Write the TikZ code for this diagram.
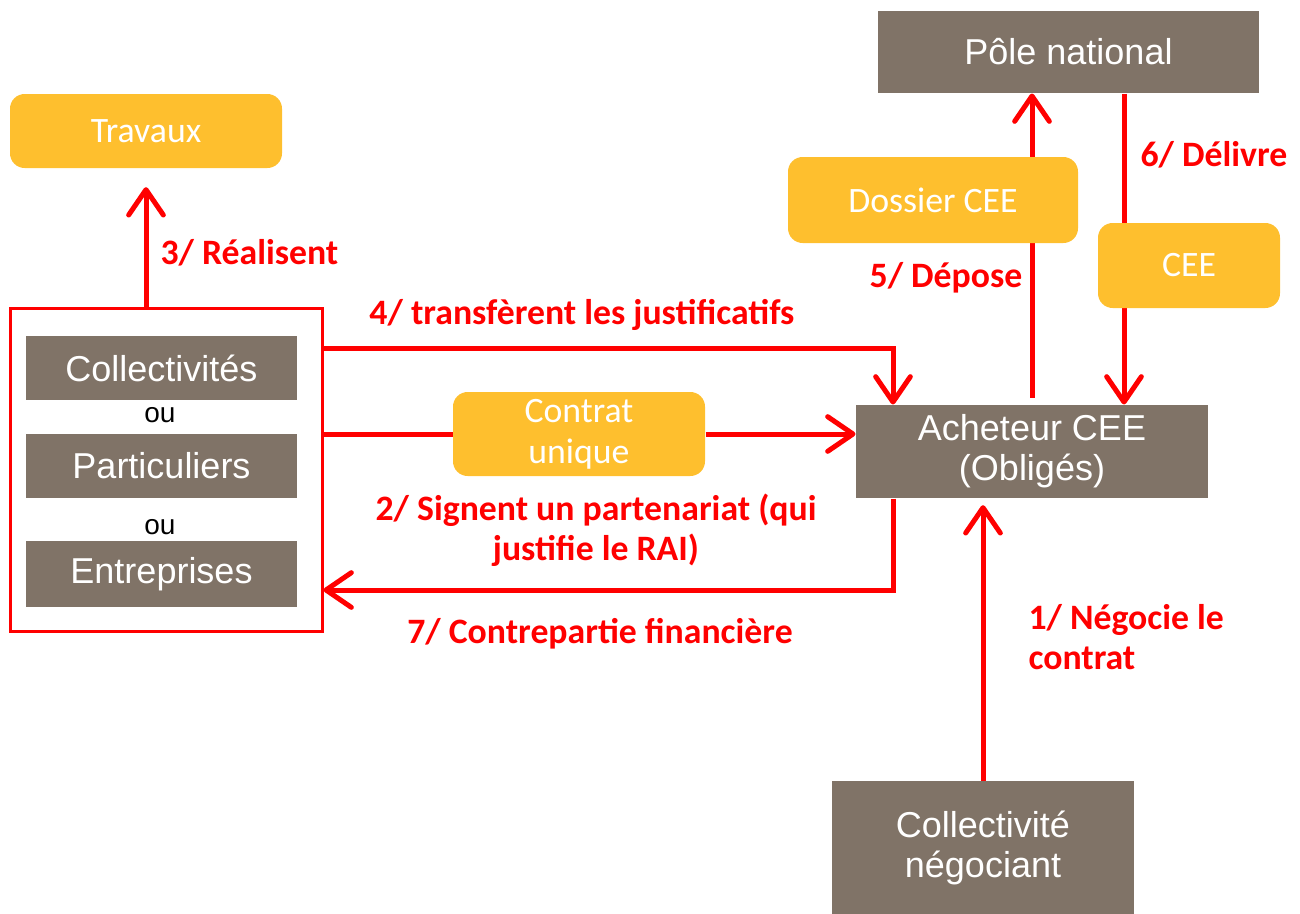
\documentclass[tikz,border=0pt]{standalone}
\usepackage{fontspec}
\setmainfont{Carlito}
\newfontfamily\arialfont{Liberation Sans}
\usetikzlibrary{arrows.meta,backgrounds}
\definecolor{boxbrown}{RGB}{128,115,103}
\definecolor{boxyellow}{RGB}{254,191,46}
\definecolor{arrowred}{RGB}{255,0,0}
\tikzset{every picture/.style={line width=0.75pt}}

\begin{document}
\begin{tikzpicture}[
            x=0.75pt,
            y=0.75pt,
            yscale=-1,
            xscale=1,
            brownbox/.style={fill=boxbrown, text=white, inner sep=0pt, align=center, font=\arialfont\fontsize{27}{30}\selectfont},
            yellowbox/.style={fill=boxyellow, text=white, rounded corners=11pt, inner sep=0pt, align=center, font=\fontsize{26.8}{30.5}\selectfont},
            redlabel/.style={text=arrowred, inner sep=0pt, font=\bfseries\fontsize{26.8}{30}\selectfont},
            flowline/.style={draw=arrowred, line width=3.75pt},
            flow/.style={flowline, -{Straight Barb[length=19pt,width=26pt,round]}}
        ]
            \useasboundingbox (0,0) rectangle (1300,914);
            % acteurs
            \node[yellowbox, minimum width=204pt, minimum height=55.5pt] (travaux) at (146,131) {Travaux};
            \node[draw=arrowred, line width=2.25pt, minimum width=234pt, minimum height=242.25pt] (grp) at (166,469.5) {};
            \node[brownbox, minimum width=203.25pt, minimum height=48pt] (coll) at (161.5,368) {Collectivités};
            \node[font=\arialfont\fontsize{21}{24}\selectfont] (ou1) at (160,415) {ou};
            \node[brownbox, minimum width=203.25pt, minimum height=48pt] (part) at (161.5,466) {Particuliers};
            \node[font=\arialfont\fontsize{21}{24}\selectfont] (ou2) at (160,527) {ou};
            \node[brownbox, minimum width=203.25pt, minimum height=49.5pt] (entr) at (161.5,574) {Entreprises};
            \node[brownbox, minimum width=285.75pt, minimum height=61.5pt] (pole) at (1068.5,52) {Pôle national};
            \node[brownbox, minimum width=264pt, minimum height=69.75pt] (acheteur) at (1032,451.5) {Acheteur CEE\\(Obligés)};
            \node[brownbox, minimum width=226.5pt, minimum height=99.75pt] (negociant) at (983,847.5) {Collectivité\\négociant};
            % documents
            \node[yellowbox, minimum width=217.5pt, minimum height=64.5pt] (dossier) at (933,200) {Dossier CEE};
            \node[yellowbox, minimum width=136.5pt, minimum height=63.75pt] (cee) at (1189,265.5) {CEE};
            \node[yellowbox, minimum width=189pt, minimum height=63pt] (contrat) at (579,434) {Contrat\\unique};
            \coordinate (c4) at (893,348);
            \coordinate (c6) at (1124,0);
            \coordinate (c7) at (893,590);
            % fleches
            \begin{scope}[on background layer]
            \draw[flow, shorten >=14pt] (grp.north -| travaux.south) -- (travaux.south);
            \draw[flow] (grp.east |- c4) -- (c4) -- (acheteur.north -| c4);
            \draw[flowline] (grp.east |- contrat.west) -- (contrat.west);
            \draw[flow] (contrat.east) -- (contrat.east -| acheteur.west);
            \draw[flow, shorten <=5pt] (acheteur.north) -- (acheteur.north |- pole.south);
            \draw[flow] (pole.south -| c6) -- (acheteur.north -| c6);
            \draw[flow] (acheteur.south -| c7) -- (c7) -- (grp.east |- c7);
            \draw[flow, shorten >=5pt] (negociant.north) -- (acheteur.south -| negociant.north);
            \end{scope}
            % etiquettes
            \node[redlabel, anchor=west] (l3) at (160,253) {3/ Réalisent};
            \node[redlabel] (l4) at (582,315) {4/ transfèrent les justificatifs};
            \node[redlabel, align=center] (l2) at (596,530) {2/ Signent un partenariat (qui\\justifie le RAI)};
            \node[redlabel] (l7) at (600,634) {7/ Contrepartie financière};
            \node[redlabel] (l5) at (946,278) {5/ Dépose};
            \node[redlabel, anchor=west] (l6) at (1140,155) {6/ Délivre};
            \node[redlabel, align=left, anchor=west] (l1) at (1028,637) {1/ Négocie le\\contrat};
\end{tikzpicture}
\end{document}
